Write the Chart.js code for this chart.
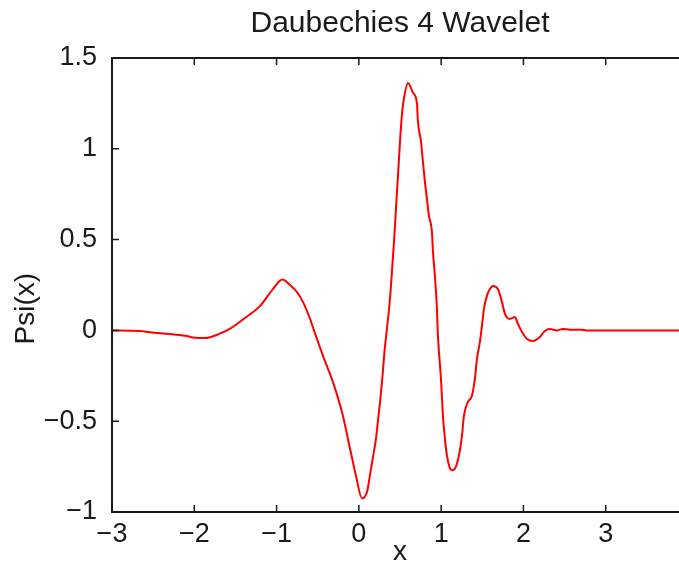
<!DOCTYPE html>
<html>
<head>
<meta charset="utf-8">
<script src="https://cdn.jsdelivr.net/npm/chart.js@4.4.1/dist/chart.umd.min.js"></script>
<style>
  html, body { margin: 0; padding: 0; background: #fff; overflow: hidden; }
  #wrap { width: 700px; height: 569px; }
</style>
</head>
<body>
<div id="wrap"><canvas id="chart" width="700" height="569"></canvas></div>
<script>
/* Daubechies 4 wavelet */
const xValues = [
    -3.00, -2.66, -2.54, -2.30, -2.11, -1.99, -1.87, -1.69, -1.57, -1.41,
    -1.20, -1.04, -0.93, -0.837, -0.75, -0.68, -0.59, -0.56, -0.436, -0.315,
    -0.205, -0.108, -0.035, 0.038, 0.099, 0.134, 0.171, 0.207, 0.232, 0.256,
    0.280, 0.293, 0.317, 0.341, 0.378, 0.402, 0.427, 0.451, 0.475, 0.500,
    0.524, 0.549, 0.597, 0.657, 0.706, 0.718, 0.755, 0.779, 0.803, 0.827,
    0.852, 0.888, 0.900, 0.925, 0.949, 0.961, 0.998, 1.022, 1.046, 1.071,
    1.107, 1.131, 1.168, 1.216, 1.253, 1.277, 1.326, 1.374, 1.410, 1.435,
    1.471, 1.496, 1.520, 1.556, 1.593, 1.629, 1.690, 1.739, 1.775, 1.836,
    1.897, 1.933, 1.982, 2.043, 2.116, 2.200, 2.260, 2.320, 2.410, 2.480,
    2.565, 2.710, 2.760, 4.000,
];
const psiValues = [
    0, -0.003, -0.01, -0.02, -0.03, -0.04, -0.042, -0.018, 0.008, 0.06,
    0.135, 0.23, 0.28, 0.25, 0.21, 0.157, 0.06, 0.02, -0.14, -0.285,
    -0.45, -0.65, -0.80, -0.925, -0.89, -0.80, -0.70, -0.60, -0.50, -0.40,
    -0.29, -0.22, -0.09, 0.008, 0.173, 0.322, 0.487, 0.669, 0.85, 1.04,
    1.19, 1.28, 1.363, 1.31, 1.25, 1.15, 1.04, 0.928, 0.817, 0.724,
    0.63, 0.542, 0.438, 0.295, 0.118, -0.03, -0.267, -0.471, -0.597, -0.69,
    -0.76, -0.77, -0.76, -0.69, -0.58, -0.47, -0.394, -0.36, -0.267, -0.157,
    -0.063, 0.025, 0.118, 0.19, 0.228, 0.245, 0.228, 0.157, 0.091, 0.063,
    0.074, 0.036, -0.008, -0.047, -0.058, -0.036, -0.003, 0.008, 0, 0.008,
    0.004, 0.004, 0, 0,
];
const xTicks = [-3, -2, -1, 0, 1, 2, 3];
const yTicks = [-1, -0.5, 0, 0.5, 1, 1.5];

const FONT = "'Liberation Sans', Arial, sans-serif";
const INK = '#1a1a1a';

const fmt = (v) => (v < 0 ? '\u2212' + Math.abs(v) : String(v));

// MATLAB style box with inward ticks, plus the y label sitting a bit low
const framePlugin = {
    id: 'frame',
    afterDraw(chart) {
        const { ctx, chartArea: a, scales } = chart;
        const len = 7;
        ctx.save();
        ctx.strokeStyle = INK;
        ctx.lineWidth = 2;
        ctx.strokeRect(a.left, a.top, a.right - a.left, a.bottom - a.top);
        ctx.lineWidth = 1.5;
        ctx.beginPath();
        xTicks.forEach(v => {
            const px = scales.x.getPixelForValue(v);
            ctx.moveTo(px, a.bottom); ctx.lineTo(px, a.bottom - len);
            ctx.moveTo(px, a.top); ctx.lineTo(px, a.top + len);
        });
        yTicks.forEach(v => {
            const py = scales.y.getPixelForValue(v);
            ctx.moveTo(a.left, py); ctx.lineTo(a.left + len, py);
            ctx.moveTo(a.right, py); ctx.lineTo(a.right - len, py);
        });
        ctx.stroke();

        ctx.translate(26, scales.y.getPixelForValue(0.12));
        ctx.rotate(-Math.PI / 2);
        ctx.fillStyle = INK;
        ctx.font = '28px ' + FONT;
        ctx.textAlign = 'center';
        ctx.textBaseline = 'middle';
        ctx.fillText('Psi(x)', 0, 0);
        ctx.restore();
    },
};

new Chart(document.getElementById('chart'), {
    type: 'line',
    data: {
        datasets: [{
            label: 'Psi(x)',
            data: xValues.map((x, i) => ({ x, y: psiValues[i] })),
            borderColor: '#ff0000',
            borderWidth: 2,
            pointRadius: 0,
            fill: false,
            cubicInterpolationMode: 'monotone',
        }],
    },
    options: {
        responsive: false,
        animation: false,
        layout: { padding: { left: 0, right: 12, top: 0, bottom: 0 } },
        plugins: {
            legend: { display: false },
            tooltip: { enabled: false },
            title: {
                display: true,
                text: 'Daubechies 4 Wavelet',
                color: INK,
                fullSize: false,
                font: { family: FONT, size: 30, weight: 'normal' },
                padding: { top: 6, bottom: 16 },
            },
        },
        scales: {
            x: {
                type: 'linear',
                min: -3,
                max: 4,
                afterBuildTicks: (s) => { s.ticks = xTicks.map(v => ({ value: v })); },
                afterFit: (s) => { s.height = 57; },
                grid: { display: false },
                border: { display: false },
                ticks: {
                    color: INK,
                    font: { family: FONT, size: 27 },
                    padding: -2,
                    maxRotation: 0,
                    autoSkip: false,
                    callback: (v) => fmt(v),
                },
                title: {
                    display: true,
                    text: 'x',
                    color: INK,
                    font: { family: FONT, size: 28 },
                    padding: { top: 0, bottom: 0 },
                },
            },
            y: {
                min: -1,
                max: 1.5,
                afterBuildTicks: (s) => { s.ticks = yTicks.map(v => ({ value: v })); },
                afterFit: (s) => { s.width = 112; },
                grid: { display: false },
                border: { display: false },
                ticks: {
                    color: INK,
                    font: { family: FONT, size: 27 },
                    padding: 7,
                    callback: (v) => fmt(v),
                },
            },
        },
    },
    plugins: [framePlugin],
});
</script>
</body>
</html>
